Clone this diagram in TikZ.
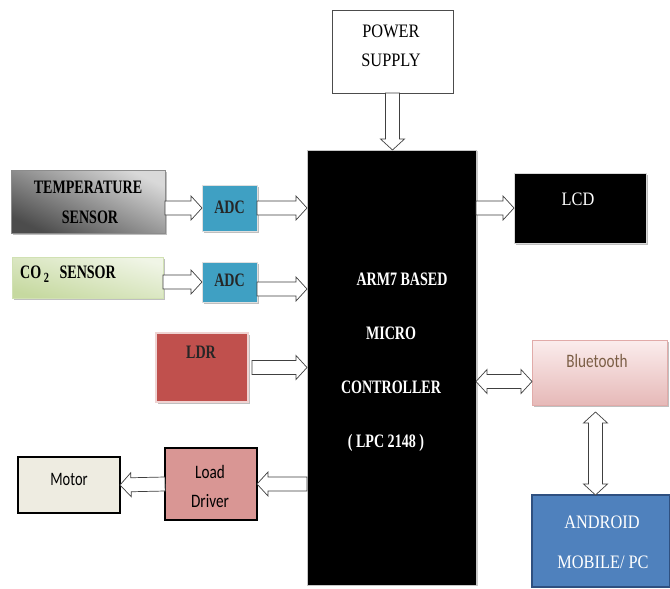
\documentclass[tikz,border=0pt]{standalone}
\usepackage{fontspec}
\usepackage{graphicx}
\setmainfont{Liberation Serif}
\newfontfamily\bser[FakeStretch=0.74]{Liberation Serif}
\newfontfamily\rser[FakeStretch=0.86]{Liberation Serif}
\newfontfamily\csans[FakeStretch=0.8]{Carlito}
\usetikzlibrary{calc,shadows}
\definecolor{adcblue}{HTML}{3FA0C3}
\definecolor{ldrred}{HTML}{C0504D}
\definecolor{ldpink}{HTML}{D99694}
\definecolor{motorbg}{HTML}{EEECE1}
\definecolor{andblue}{HTML}{4F81BD}
\definecolor{andborder}{HTML}{2F5080}
\definecolor{btpinka}{HTML}{FBEDED}
\definecolor{btpinkb}{HTML}{E6B9B8}
\definecolor{bttext}{HTML}{7B5E45}
\definecolor{coa}{HTML}{F0F5E6}
\definecolor{cob}{HTML}{C6D9A0}
\newcommand\fsz{\fontsize{19pt}{22pt}\selectfont}
\def\ash{7pt}
\def\ahw{12pt}
\def\ahl{11pt}
\tikzset{
  box/.style={inner sep=0pt, outer sep=0pt},
  shade box/.style={drop shadow={shadow xshift=2pt, shadow yshift=-2pt, fill=black, opacity=0.25}},
  rtxt/.style={anchor=base, inner sep=0pt, font=\rser\fsz},
  btxt/.style={anchor=base, inner sep=0pt, font=\bser\bfseries\fsz},
  stxt/.style={anchor=base, inner sep=0pt, font=\csans\fsz},
  sarrow/.style={draw=black!75, fill=white, line width=0.7pt, line join=miter,
    to path={
      ($(\tikztostart)!\ash!90:(\tikztotarget)$)
      -- ($(\tikztotarget)!\ahl!(\tikztostart)!\ash!-90:(\tikztostart)$)
      -- ($(\tikztotarget)!\ahl!(\tikztostart)!\ahw!-90:(\tikztostart)$)
      -- (\tikztotarget)
      -- ($(\tikztotarget)!\ahl!(\tikztostart)!\ahw!90:(\tikztostart)$)
      -- ($(\tikztotarget)!\ahl!(\tikztostart)!\ash!90:(\tikztostart)$)
      -- ($(\tikztostart)!\ash!-90:(\tikztotarget)$)
      -- cycle}},
  darrow/.style={draw=black!75, fill=white, line width=0.7pt, line join=miter,
    to path={
      (\tikztostart)
      -- ($(\tikztostart)!\ahl!(\tikztotarget)!\ahw!90:(\tikztotarget)$)
      -- ($(\tikztostart)!\ahl!(\tikztotarget)!\ash!90:(\tikztotarget)$)
      -- ($(\tikztotarget)!\ahl!(\tikztostart)!\ash!-90:(\tikztostart)$)
      -- ($(\tikztotarget)!\ahl!(\tikztostart)!\ahw!-90:(\tikztostart)$)
      -- (\tikztotarget)
      -- ($(\tikztotarget)!\ahl!(\tikztostart)!\ahw!90:(\tikztostart)$)
      -- ($(\tikztotarget)!\ahl!(\tikztostart)!\ash!90:(\tikztostart)$)
      -- ($(\tikztostart)!\ahl!(\tikztotarget)!\ash!-90:(\tikztotarget)$)
      -- ($(\tikztostart)!\ahl!(\tikztotarget)!\ahw!-90:(\tikztotarget)$)
      -- cycle}}
}
\begin{document}
\begin{tikzpicture}[x=1pt,y=1pt]
\fill[white] (0,0) rectangle (670,-589);
\useasboundingbox (0,0) rectangle (670,-589);

% blocks
\node[box, minimum width=121pt, minimum height=83pt, draw=black!70, line width=0.8pt, fill=white] (ps) at (392.5,-51.5) {};
\node[box, minimum width=169pt, minimum height=435pt, fill=black, draw=gray!45, line width=1pt,
  drop shadow={shadow xshift=2pt, shadow yshift=-1pt, fill=black, opacity=0.2}] (mc) at (391.5,-367.5) {};
\node[box, shade box, minimum width=154pt, minimum height=63pt, top color=black!15, bottom color=black!70, shading angle=-25, draw=black!45, line width=0.6pt] (temp) at (88,-201.5) {};
\node[box, shade box, minimum width=55pt, minimum height=46pt, fill=adcblue, draw=gray!25, line width=1pt] (adc1) at (229.5,-208) {};
\node[box, shade box, minimum width=151pt, minimum height=41pt, top color=coa, bottom color=cob, shading angle=-15, draw=cob!80, line width=0.5pt] (co2) at (87.5,-277.5) {};
\node[box, shade box, minimum width=55pt, minimum height=40pt, fill=adcblue, draw=gray!25, line width=1pt] (adc2) at (229.5,-282) {};
\node[box, shade box, minimum width=92pt, minimum height=69pt, fill=ldrred, draw=ldrred!25, line width=2pt] (ldr) at (202,-367.5) {};
\node[box, minimum width=92pt, minimum height=72pt, fill=ldpink, draw=black, line width=2.2pt] (ld) at (211,-484) {};
\node[box, minimum width=102pt, minimum height=56pt, fill=motorbg, draw=black, line width=2.2pt] (motor) at (69,-485) {};
\node[box, shade box, minimum width=132pt, minimum height=70pt, fill=black, draw=gray!30, line width=1pt] (lcd) at (580,-208) {};
\node[box, shade box, minimum width=135pt, minimum height=65pt, top color=btpinka, bottom color=btpinkb, draw=ldpink!80, line width=0.6pt] (bt) at (599.5,-372.5) {};
\node[box, minimum width=138pt, minimum height=92pt, fill=andblue, draw=andborder, line width=1.6pt] (android) at (601,-541) {};

% texts
\node[rtxt] (pst1) at (391,-37) {POWER};
\node[rtxt] (pst2) at (391,-66) {SUPPLY};
\node[btxt] (tt1) at (88,-193) {TEMPERATURE};
\node[btxt] (tt2) at (90,-223) {SENSOR};
\node[btxt] (cot) at (68,-278) {CO\raisebox{-4pt}{\fontsize{14pt}{15pt}\selectfont\ 2}\ \ \ SENSOR};
\node[btxt, text=black!85] (at1) at (229.5,-213) {ADC};
\node[btxt, text=black!85] (at2) at (229.5,-286) {ADC};
\node[btxt, text=black!85] (lt) at (201,-358) {LDR};
\node[stxt] (mt) at (69,-485) {\scalebox{0.95}[1]{Motor}};
\node[stxt] (ldt1) at (210,-478) {Load};
\node[stxt] (ldt2) at (210,-507) {Driver};
\node[rtxt, text=white] (lcdt) at (578,-205) {LCD};
\node[btxt, text=white] (mct1) at (402,-285) {ARM7 BASED};
\node[btxt, text=white] (mct2) at (391,-339) {MICRO};
\node[btxt, text=white] (mct3) at (391,-393) {CONTROLLER};
\node[btxt, text=white] (mct4) at (386,-447) {( LPC 2148 )};
\node[stxt, text=bttext] (btt) at (597,-367) {Bluetooth};
\node[rtxt, text=white] (ant1) at (602,-528) {ANDROID};
\node[rtxt, text=white] (ant2) at (603,-568) {MOBILE/ PC};

% connector end points
\coordinate (mcN) at (ps.south |- mc.north);
\coordinate (tE) at (temp.east |- adc1.west);
\coordinate (m1) at (adc1.east -| mc.west);
\coordinate (cE) at (co2.east |- adc2.west);
\coordinate (a2o) at ([yshift=-7pt]adc2.east);
\coordinate (m2) at (a2o -| mc.west);
\coordinate (lo) at ([xshift=4pt]ldr.east);
\coordinate (m3) at (lo -| mc.west);
\coordinate (m4) at (ld.east -| mc.west);
\coordinate (m5) at (mc.east |- lcd.west);
\coordinate (m6) at ([yshift=-9pt]mc.east |- bt.west);
\coordinate (b6) at (m6 -| bt.west);
\coordinate (bs) at ([xshift=-4pt,yshift=-7pt]bt.south);
\coordinate (an) at (bs |- android.north);

% connectors
\draw[sarrow] (ps.south) to (mcN);
\draw[sarrow] (tE) to (adc1.west);
\draw[sarrow] (adc1.east) to (m1);
\draw[sarrow] (cE) to (adc2.west);
\draw[sarrow] (a2o) to (m2);
\draw[sarrow] (lo) to (m3);
\draw[sarrow] (m4) to (ld.east);
\draw[sarrow] (ld.west) to (motor.east);
\draw[sarrow] (m5) to (lcd.west);
\draw[darrow] (m6) to (b6);
\draw[darrow] (bs) to (an);
\end{tikzpicture}
\end{document}
